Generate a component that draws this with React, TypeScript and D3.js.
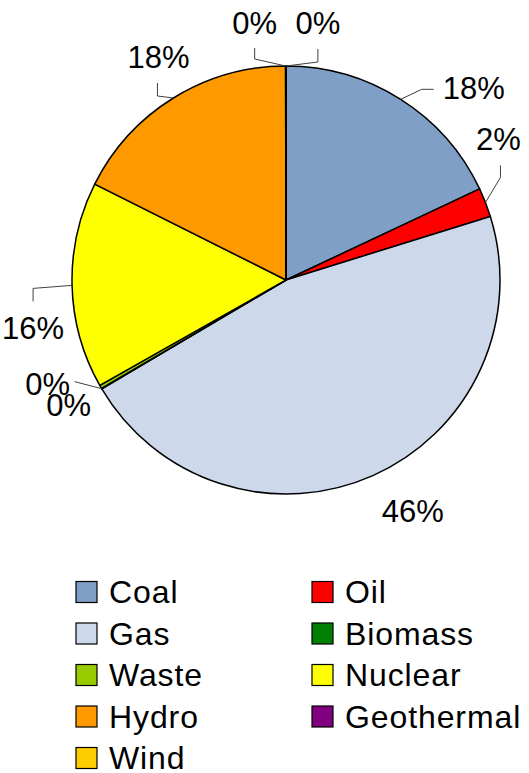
import React from "react";
import * as d3 from "d3";

const categories = ["Coal", "Oil", "Gas", "Biomass", "Waste", "Nuclear", "Hydro", "Geothermal", "Wind"];
const values = [18.0, 2.2, 46.3, 0.05, 0.25, 15.6, 17.57, 0.01, 0.02];
const colors = ["#7F9FC6", "#FF0000", "#CDD9EA", "#008000", "#99CC00", "#FFFF00", "#FF9900", "#800080", "#FFCC00"];

// label layout relative to slice edge point at mid-angle: [elbow, end] leader points and label anchor
type Lay = { leader: [number, number][] | null; label: [number, number]; anchor: string };
const labelLayout: Record<string, Lay> = {
  Coal: { leader: [[21, -10], [33, -10]], label: [42, 0], anchor: "start" },
  Oil: { leader: [[15, -25], [15, -37]], label: [13, -52], anchor: "middle" },
  Gas: { leader: null, label: [40, 46], anchor: "middle" },
  Biomass: { leader: [[-27, -7]], label: [-54, 6], anchor: "middle" },
  Waste: { leader: null, label: [-32, 29], anchor: "middle" },
  Nuclear: { leader: [[-39, 3], [-39, 16]], label: [-39, 54], anchor: "middle" },
  Hydro: { leader: [[-16, -2], [-16, -15]], label: [-15, -30], anchor: "middle" },
  Geothermal: { leader: [[-31, -7], [-31, -18]], label: [-31, -32], anchor: "middle" },
  Wind: { leader: [[32, -4], [32, -17]], label: [32, -32], anchor: "middle" },
};

const W = 529;
const H = 773;
const cx = 286;
const cy = 280;
const R = 214;
const FONT = "'Liberation Sans', Arial, sans-serif";

export default function App() {
  const data = categories.map((c, i) => ({ name: c, value: values[i], color: colors[i] }));
  const total = d3.sum(values);
  const pie = d3.pie<any>().sort(null).value((d: any) => d.value).startAngle(0).endAngle(2 * Math.PI);
  const arcs = pie(data);
  const arcGen = d3.arc<any>().innerRadius(0).outerRadius(R);

  const legendX = [76, 312];
  const legendY0 = 581.5;
  const legendStep = 41.5;

  return (
    <svg width={W} height={H} style={{ position: "absolute", left: 0, top: 0, background: "#fff" }}>
      <g transform={`translate(${cx},${cy})`}>
        {arcs.map((a, i) => (
          <path key={i} d={arcGen(a) || ""} fill={a.data.color} stroke="#000" strokeWidth={1.5} strokeLinejoin="round" />
        ))}
      </g>
      {arcs.map((a, i) => {
        const mid = (a.startAngle + a.endAngle) / 2;
        const ex = cx + R * Math.sin(mid);
        const ey = cy - R * Math.cos(mid);
        const lay = labelLayout[a.data.name];
        const pct = Math.round((a.data.value / total) * 100) + "%";
        const pts: [number, number][] = lay.leader ? [[ex, ey], ...lay.leader.map(([dx, dy]) => [ex + dx, ey + dy] as [number, number])] : [];
        return (
          <g key={"l" + i}>
            {pts.length > 0 && (
              <polyline points={pts.map((p) => p.join(",")).join(" ")} fill="none" stroke="#404040" strokeWidth={1} />
            )}
            <text x={ex + lay.label[0]} y={ey + lay.label[1]} textAnchor={lay.anchor} fontFamily={FONT} fontSize={31} fill="#000">
              {pct}
            </text>
          </g>
        );
      })}
      {data.map((d, i) => {
        const col = i % 2;
        const row = Math.floor(i / 2);
        const x = legendX[col];
        const y = legendY0 + row * legendStep;
        return (
          <g key={"lg" + i}>
            <rect x={x} y={y} width={21} height={21} fill={d.color} stroke="#000" strokeWidth={1.2} />
            <text x={x + 33} y={y + 21.5} fontFamily={FONT} fontSize={32} letterSpacing={0.9} fill="#000">
              {d.name}
            </text>
          </g>
        );
      })}
    </svg>
  );
}
